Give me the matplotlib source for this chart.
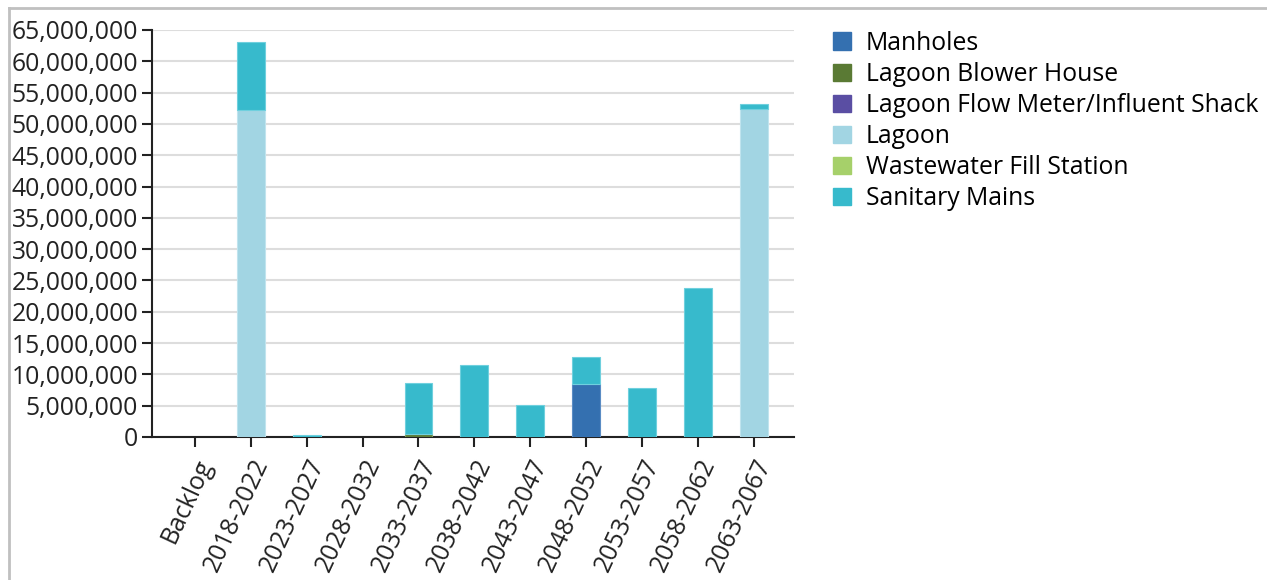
import matplotlib
matplotlib.use('Agg')
import numpy as np
from matplotlib import pyplot as plt
from matplotlib.patches import Rectangle
from matplotlib.ticker import FuncFormatter

plt.rcParams['font.family'] = ['Open Sans', 'DejaVu Sans']

periods = ['Backlog', '2018-2022', '2023-2027', '2028-2032', '2033-2037', '2038-2042',
           '2043-2047', '2048-2052', '2053-2057', '2058-2062', '2063-2067']

manholes       = [0, 0, 0, 0, 0, 0, 0, 8.5e6, 0, 0, 0]
blower_house   = [0, 0, 0, 0, 0.45e6, 0, 0, 0, 0, 0, 0]
flow_meter     = [0, 0, 0, 0, 0, 0, 0, 0, 0, 0, 0]
lagoon         = [0, 52.3e6, 0, 0, 0, 0, 0, 0, 0, 0, 52.4e6]
fill_station   = [0, 0, 0, 0, 0, 0, 0, 0, 0, 0, 0]
sanitary_mains = [0, 10.8e6, 0.3e6, 0, 8.1e6, 11.5e6, 5.1e6, 4.3e6, 7.8e6, 23.8e6, 0.8e6]

series = [
    ('Manholes', manholes, '#3470b0', '#5a8cc4'),
    ('Lagoon Blower House', blower_house, '#5a7a34', '#7f9a5c'),
    ('Lagoon Flow Meter/Influent Shack', flow_meter, '#5a4ea3', '#7c72b8'),
    ('Lagoon', lagoon, '#a2d5e3', '#c0e4ee'),
    ('Wastewater Fill Station', fill_station, '#a6d06a', '#c0de96'),
    ('Sanitary Mains', sanitary_mains, '#37bacc', '#6fd0de'),
]

fig = plt.figure(figsize=(12.67, 5.8), dpi=100)
ax = fig.add_axes([0.12, 0.2466, 0.507, 0.7017])

x = np.arange(len(periods))
bottom = np.zeros(len(periods))
handles = []
for name, vals, col, edge in series:
    vals = np.array(vals)
    keep = vals > 0   # skip empty segments so no stray edges sit on the axis
    ax.bar(x[keep], vals[keep], 0.5, bottom=bottom[keep], color=col, edgecolor=edge,
           linewidth=0.8, zorder=3)
    bottom += vals
    handles.append(Rectangle((0, 0), 1, 1, color=col))

ax.set_ylim(0, 65e6)
ax.set_xlim(-0.77, 10.73)
ax.set_yticks(np.arange(0, 65e6 + 1, 5e6))
ax.yaxis.set_major_formatter(FuncFormatter(lambda v, p: '{:,.0f}'.format(v)))
ax.set_xticks(x)
ax.set_xticklabels(periods, rotation=65, ha='right', rotation_mode='anchor')
ax.tick_params(axis='both', labelsize=17.8, colors='#222222', length=7, width=1.5, pad=3)
ax.tick_params(axis='x', pad=6)
ax.grid(axis='y', color='#dddddd', linewidth=1.5, zorder=0)
ax.spines['top'].set_visible(False)
ax.spines['right'].set_visible(False)
ax.spines['left'].set_linewidth(1.5)
ax.spines['bottom'].set_linewidth(1.5)
ax.spines['left'].set_color('#222222')
ax.spines['bottom'].set_color('#222222')

fig.legend(handles, [s[0] for s in series], loc='upper left', bbox_to_anchor=(0.648, 0.968),
           frameon=False, fontsize=17.8, handlelength=0.72, handleheight=0.72,
           labelspacing=0.245, handletextpad=0.6, borderpad=0)

# light grey frame along the top and left edge
fig.add_artist(plt.Line2D([0.0071, 1], [0.9862, 0.9862], color='#c0c0c0', linewidth=2, transform=fig.transFigure))
fig.add_artist(plt.Line2D([0.0071, 0.0071], [0, 0.9862], color='#c0c0c0', linewidth=2, transform=fig.transFigure))

fig.savefig('out.png', dpi=100)
